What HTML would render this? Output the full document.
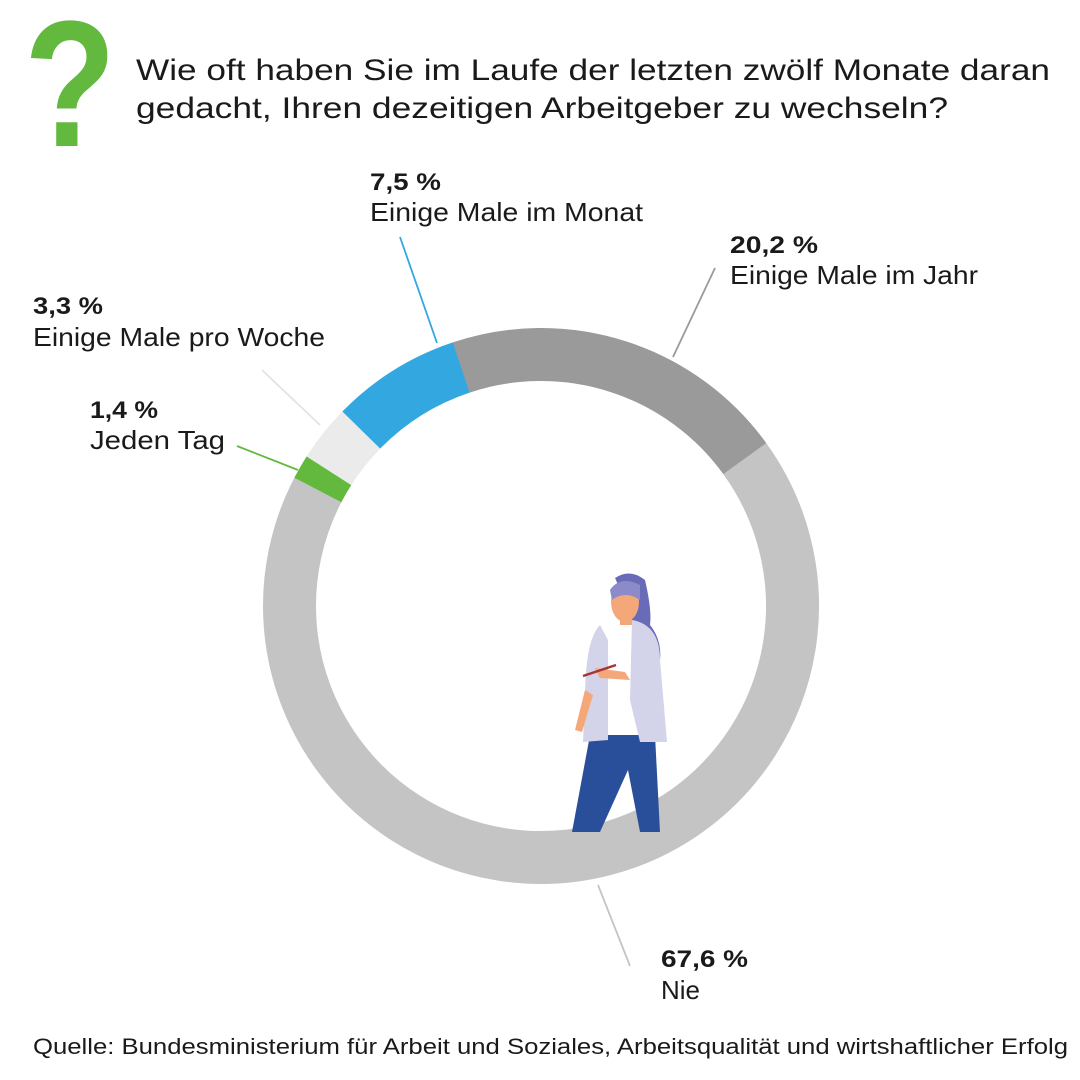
<!DOCTYPE html>
<html><head><meta charset="utf-8"><style>
body{margin:0;background:#fff;}
svg{display:block;}
text{font-family:"Liberation Sans",sans-serif;fill:#1a1a1a;}
</style></head><body>
<svg width="1080" height="1080" viewBox="0 0 1080 1080">
<text x="24" y="146" font-size="180" font-weight="bold" style="fill:#62b93e" textLength="92" lengthAdjust="spacingAndGlyphs">?</text>
<text x="136" y="80" font-size="30" textLength="914" lengthAdjust="spacingAndGlyphs">Wie oft haben Sie im Laufe der letzten zwölf Monate daran</text>
<text x="136" y="118" font-size="30" textLength="812" lengthAdjust="spacingAndGlyphs">gedacht, Ihren dezeitigen Arbeitgeber zu wechseln?</text>
<g fill="none" stroke-width="53">
<circle cx="541" cy="606" r="251.5" pathLength="100" stroke="#9a9a9a" stroke-dasharray="20.2 79.8" transform="rotate(-108.5 541 606)"/>
<circle cx="541" cy="606" r="251.5" pathLength="100" stroke="#c4c4c5" stroke-dasharray="67.6 32.4" transform="rotate(-35.78 541 606)"/>
<circle cx="541" cy="606" r="251.5" pathLength="100" stroke="#62b93e" stroke-dasharray="1.4 98.6" transform="rotate(207.58 541 606)"/>
<circle cx="541" cy="606" r="251.5" pathLength="100" stroke="#ebebeb" stroke-dasharray="3.3 96.7" transform="rotate(212.62 541 606)"/>
<circle cx="541" cy="606" r="251.5" pathLength="100" stroke="#33a7e0" stroke-dasharray="7.5 92.5" transform="rotate(224.5 541 606)"/>
</g>
<g stroke-width="1.8">
<line x1="400" y1="237" x2="437" y2="343" stroke="#33a7e0"/>
<line x1="715" y1="268" x2="673" y2="357" stroke="#9a9a9a"/>
<line x1="262" y1="370" x2="320" y2="425" stroke="#e3e3e3"/>
<line x1="237" y1="446" x2="298" y2="470" stroke="#62b93e"/>
<line x1="598" y1="885" x2="630" y2="966" stroke="#c4c4c5"/>
</g>
<g>
<path d="M615 578 Q630 568 645 580 Q652 610 650 625 Q662 640 660 660 L640 660 L625 600 Z" fill="#6a6bb8"/>
<ellipse cx="625" cy="602" rx="14" ry="20" fill="#f4a87a"/>
<path d="M610 590 Q620 575 640 585 L640 600 Q625 590 612 600 Z" fill="#8a8bc8"/>
<rect x="620" y="615" width="12" height="12" fill="#f4a87a"/>
<path d="M572 832 L590 735 L655 735 L660 832 L640 832 L628 770 L600 832 Z" fill="#2a4f9a"/>
<path d="M603 625 L645 625 L640 715 L605 715 Z" fill="#fff"/>
<path d="M600 625 Q585 640 585 700 L583 742 L608 740 L608 640 Z" fill="#d3d3ea"/>
<path d="M632 620 Q660 625 660 660 L667 742 L640 742 L630 700 Z" fill="#d3d3ea"/>
<path d="M585 690 L575 730 L582 732 L593 695 Z" fill="#f4a87a"/>
<path d="M595 668 L625 672 L630 680 L600 678 Z" fill="#f4a87a"/>
<line x1="583" y1="676" x2="616" y2="665" stroke="#a33" stroke-width="2.5"/>
</g>
<g font-size="26">
<text x="370" y="190" font-weight="bold" font-size="24" textLength="71" lengthAdjust="spacingAndGlyphs">7,5 %</text>
<text x="370" y="221" textLength="273" lengthAdjust="spacingAndGlyphs">Einige Male im Monat</text>
<text x="730" y="253" font-weight="bold" font-size="24" textLength="88" lengthAdjust="spacingAndGlyphs">20,2 %</text>
<text x="730" y="284" textLength="248" lengthAdjust="spacingAndGlyphs">Einige Male im Jahr</text>
<text x="33" y="314" font-weight="bold" font-size="24" textLength="70" lengthAdjust="spacingAndGlyphs">3,3 %</text>
<text x="33" y="346" textLength="292" lengthAdjust="spacingAndGlyphs">Einige Male pro Woche</text>
<text x="90" y="418" font-weight="bold" font-size="24" textLength="68" lengthAdjust="spacingAndGlyphs">1,4 %</text>
<text x="90" y="449" textLength="135" lengthAdjust="spacingAndGlyphs">Jeden Tag</text>
<text x="661" y="967" font-weight="bold" font-size="24" textLength="87" lengthAdjust="spacingAndGlyphs">67,6 %</text>
<text x="661" y="999" textLength="39" lengthAdjust="spacingAndGlyphs">Nie</text>
<text x="33" y="1054" font-size="22" textLength="1035" lengthAdjust="spacingAndGlyphs">Quelle: Bundesministerium für Arbeit und Soziales, Arbeitsqualität und wirtshaftlicher Erfolg</text>
</g>
</svg>
</body></html>
